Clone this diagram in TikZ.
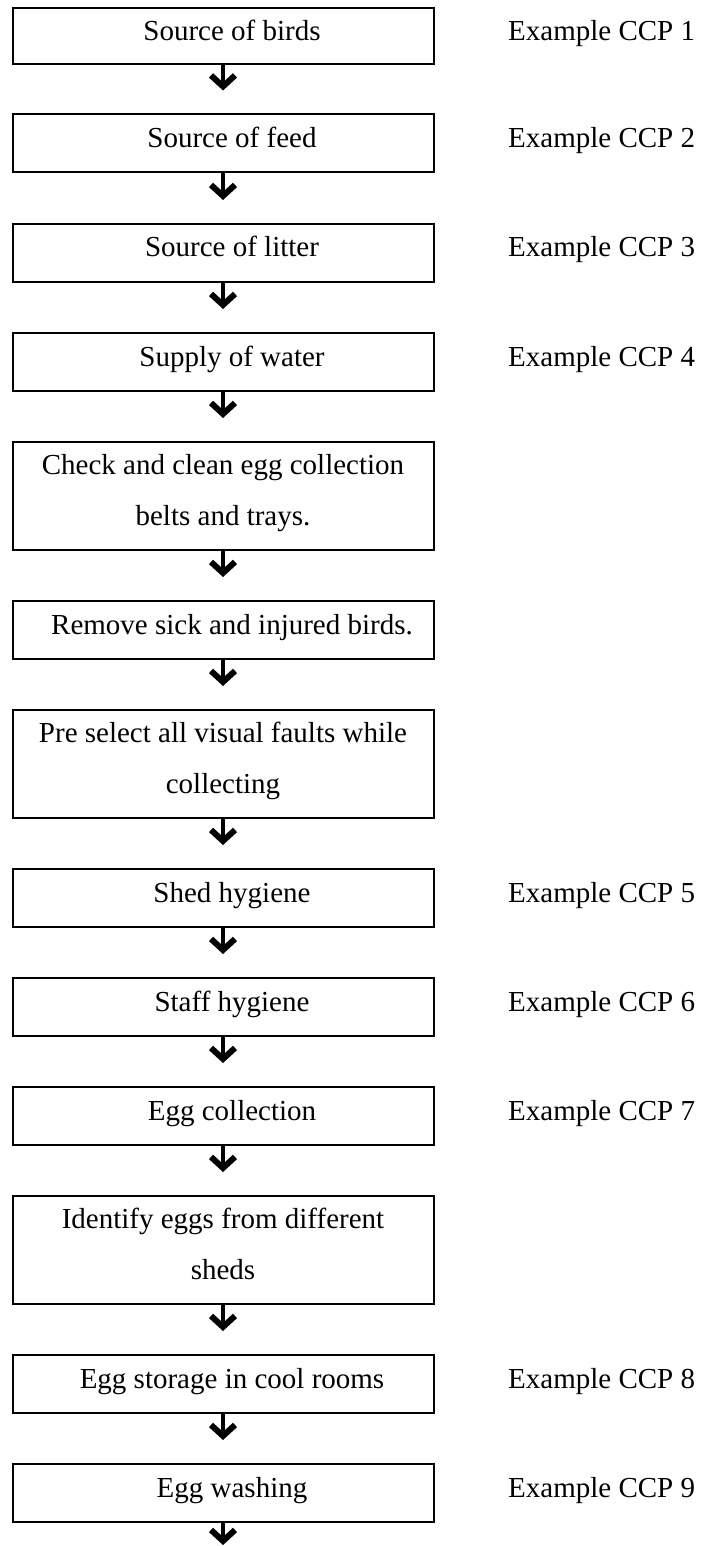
\documentclass[tikz,border=0pt]{standalone}
\usepackage{fontspec}
\setmainfont{Liberation Serif}
\usetikzlibrary{arrows.meta}
\begin{document}
\begin{tikzpicture}[x=1pt,y=-1pt,
  box/.style={draw, line width=2pt, minimum width=421pt, inner sep=0pt},
  sbox/.style={box, minimum height=58pt},
  dbox/.style={box, minimum height=108pt},
  txt/.style={anchor=base, inner sep=0pt, font=\fontsize{29}{51}\selectfont, align=center},
  ccp/.style={anchor=base west, inner sep=0pt, font=\fontsize{29}{35}\selectfont},
  flow/.style={line width=4.5pt, -{Straight Barb[length=11pt,width=24pt,line width=6pt 0 1]}, shorten <=0pt, shorten >=23pt}]
\useasboundingbox (0,0) rectangle (702,1546);
% boxes
\node[box, minimum height=55.5pt] (b1) at (223,36.25) {};
\node[sbox] (b2) at (223,143.5) {};
\node[sbox] (b3) at (223,253) {};
\node[sbox] (b4) at (223,362) {};
\node[dbox] (b5) at (223,496) {};
\node[sbox] (b6) at (223,630) {};
\node[dbox] (b7) at (223,764) {};
\node[sbox] (b8) at (223,898) {};
\node[sbox] (b9) at (223,1007) {};
\node[sbox] (b10) at (223,1116) {};
\node[dbox] (b11) at (223,1250) {};
\node[sbox] (b12) at (223,1384) {};
\node[sbox] (b13) at (223,1493) {};
\coordinate (endpt) at (223,1545);
% texts
\node[txt] (t1) at (232,41) {Source of birds};
\node[txt] (t2) at (232,147.5) {Source of feed};
\node[txt] (t3) at (232,257) {Source of litter};
\node[txt] (t4) at (232,366) {Supply of water};
\node[txt] (t5) at (223,525) {Check and clean egg collection\\belts and trays.};
\node[txt] (t6) at (232,634) {Remove sick and injured birds.};
\node[txt] (t7) at (223,793) {Pre select all visual faults while\\collecting};
\node[txt] (t8) at (232,902) {Shed hygiene};
\node[txt] (t9) at (232,1011) {Staff hygiene};
\node[txt] (t10) at (232,1120) {Egg collection};
\node[txt] (t11) at (223,1279) {Identify eggs from different\\sheds};
\node[txt] (t12) at (232,1388) {Egg storage in cool rooms};
\node[txt] (t13) at (232,1497) {Egg washing};
% CCP labels
\node[ccp] (c1) at (508,41) {Example CCP 1};
\node[ccp] (c2) at (508,147.5) {Example CCP 2};
\node[ccp] (c3) at (508,257) {Example CCP 3};
\node[ccp] (c4) at (508,366) {Example CCP 4};
\node[ccp] (c5) at (508,902) {Example CCP 5};
\node[ccp] (c6) at (508,1011) {Example CCP 6};
\node[ccp] (c7) at (508,1120) {Example CCP 7};
\node[ccp] (c8) at (508,1388) {Example CCP 8};
\node[ccp] (c9) at (508,1497) {Example CCP 9};
% arrows
\foreach \a/\b in {b1/b2,b2/b3,b3/b4,b4/b5,b5/b6,b6/b7,b7/b8,b8/b9,b9/b10,b10/b11,b11/b12,b12/b13}
  \draw[flow] (\a) -- (\b);
\draw[flow, shorten >=0pt] (b13) -- (endpt);
\end{tikzpicture}
\end{document}
